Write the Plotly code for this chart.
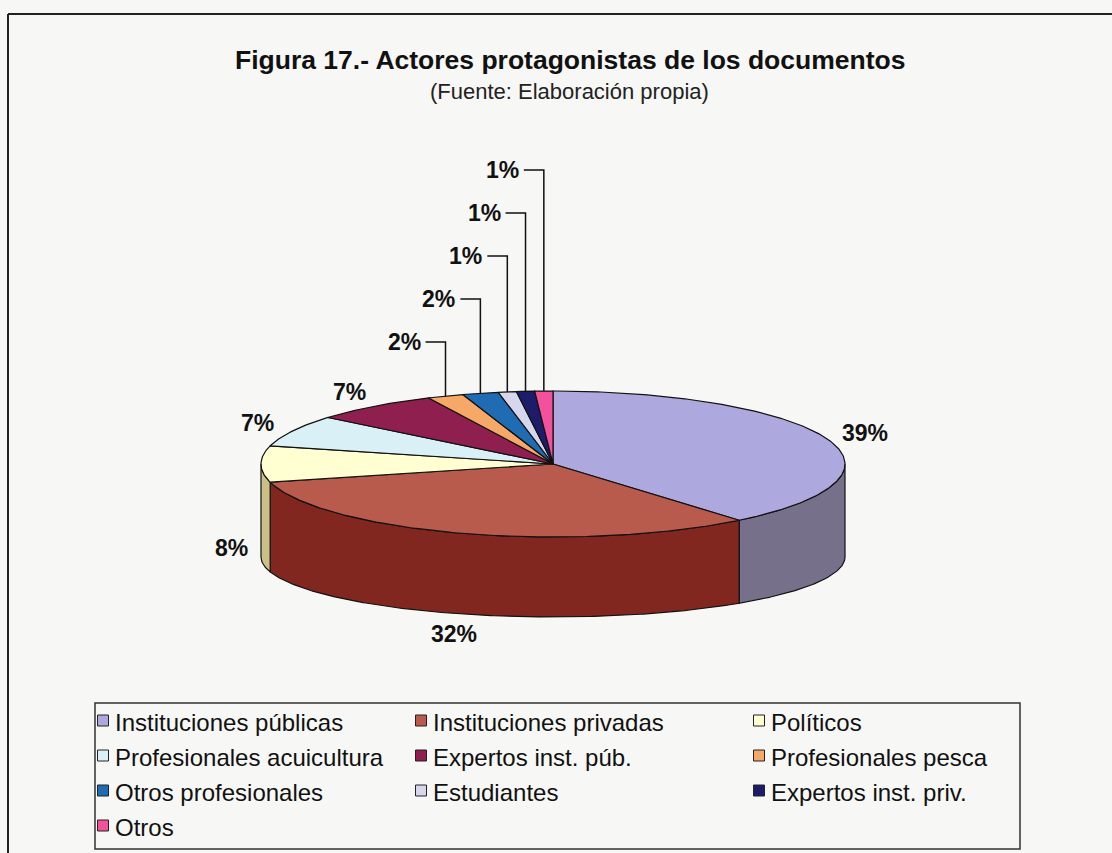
import numpy as np
import plotly.graph_objects as go

# ---------------- data ----------------
categories = ["Instituciones públicas", "Instituciones privadas", "Políticos",
              "Profesionales acuicultura", "Expertos inst. púb.", "Profesionales pesca",
              "Otros profesionales", "Estudiantes", "Expertos inst. priv.", "Otros"]
values = [39, 32, 8, 7, 7, 2, 2, 1, 1, 1]
pct_labels = ["39%", "32%", "8%", "7%", "7%", "2%", "2%", "1%", "1%", "1%"]

title_text = "Figura 17.- Actores protagonistas de los documentos"
subtitle_text = "(Fuente: Elaboración propia)"

# ---------------- styles ----------------
top_colors = ["#ADA8DE", "#B85A4C", "#FFFFD2", "#D9F1F6", "#8E1F4E",
              "#F6A866", "#1F6CB5", "#D6D6EC", "#1C1C6A", "#F2519C"]
side_colors = ["#77708B", "#82271F", "#CBC188", "#A9C0C5", "#5E1233",
               "#B87A48", "#154C80", "#A3A3B8", "#12124A", "#B03A70"]
FONT = "Liberation Sans, Arial, sans-serif"
BG = "#F7F7F5"

W, H = 1112, 853
cx, cy = 553, 464
rx, ry = 292, 73
depth = 93
ry_bottom = 60

total = float(sum(values))
cum = np.cumsum([0] + values) / total
start_deg = 90 - 360 * cum[:-1]
end_deg = 90 - 360 * cum[1:]

fig = go.Figure()


def arc(a_deg, b_deg, ellipse="top"):
    n = max(3, int(abs(a_deg - b_deg) * 1.5))
    t = np.radians(np.linspace(a_deg, b_deg, n))
    if ellipse == "top":
        return cx + rx * np.cos(t), cy - ry * np.sin(t)
    return cx + rx * np.cos(t), cy + depth - ry_bottom * np.sin(t)


# side walls (front half only)
for i in range(len(values)):
    a, b = start_deg[i], end_deg[i]
    lo, hi = max(b, -180.0), min(a, 0.0)
    if hi - lo <= 0:
        continue
    xt, yt = arc(hi, lo, "top")
    xb, yb = arc(lo, hi, "bottom")
    xs = np.concatenate([xt, xb, xt[:1]])
    ys = np.concatenate([yt, yb, yt[:1]])
    fig.add_trace(go.Scatter(x=xs, y=ys, mode="lines", fill="toself",
                             fillcolor=side_colors[i],
                             line=dict(color="#111111", width=1.2),
                             hoverinfo="skip", showlegend=False))

# top faces
for i in range(len(values)):
    xa, ya = arc(start_deg[i], end_deg[i], "top")
    xs = np.concatenate([[cx], xa, [cx]])
    ys = np.concatenate([[cy], ya, [cy]])
    fig.add_trace(go.Scatter(x=xs, y=ys, mode="lines", fill="toself",
                             fillcolor=top_colors[i],
                             line=dict(color="#111111", width=1.2),
                             name=categories[i], text=pct_labels[i],
                             hoverinfo="name+text", showlegend=False))

# percentage labels
annotations = []
j = 0
for i in range(len(values)):
    mid = np.radians((start_deg[i] + end_deg[i]) / 2)
    if values[i] > 2:
        front = np.sin(mid) <= 0.05
        kx = 1.1 if front else 1.135
        lx = cx + rx * kx * np.cos(mid)
        ly = cy - ry * 1.25 * np.sin(mid) + (0.9 * depth if front else 0)
        annotations.append(dict(x=lx, y=ly, xref="x", yref="y", text="<b>%s</b>" % pct_labels[i],
                                showarrow=False, font=dict(family=FONT, size=23, color="#111111"),
                                xanchor="center", yanchor="middle"))
    else:
        xm = cx + rx * np.cos(mid)
        ym = cy - ry * np.sin(mid)
        yl = cy - ry - 49 - 43 * j
        fig.add_trace(go.Scatter(x=[xm, xm, xm - 20], y=[ym, yl, yl], mode="lines",
                                 line=dict(color="#111111", width=1.5),
                                 hoverinfo="skip", showlegend=False))
        annotations.append(dict(x=xm - 23, y=yl, xref="x", yref="y", text="<b>%s</b>" % pct_labels[i],
                                showarrow=False, font=dict(family=FONT, size=23, color="#111111"),
                                xanchor="right", yanchor="middle"))
        j += 1

# title
annotations.append(dict(x=570, y=60, xref="x", yref="y", text="<b>%s</b>" % title_text,
                        showarrow=False, font=dict(family=FONT, size=26.5, color="#111111"),
                        xanchor="center", yanchor="middle"))
annotations.append(dict(x=569, y=91, xref="x", yref="y", text=subtitle_text,
                        showarrow=False, font=dict(family=FONT, size=22, color="#222222"),
                        xanchor="center", yanchor="middle"))

# legend (manual, 3 columns)
shapes = []
col_sq = [103, 421, 759]
row_y = [722, 757, 792, 827]
for i, name in enumerate(categories):
    r, c = divmod(i, 3)
    sx, sy = col_sq[c], row_y[r]
    shapes.append(dict(type="rect", xref="x", yref="y", x0=sx - 5.5, x1=sx + 5.5, y0=sy - 7, y1=sy + 4,
                       fillcolor=top_colors[i], line=dict(color="#222222", width=1)))
    annotations.append(dict(x=sx + 10, y=sy, xref="x", yref="y", text=name, showarrow=False,
                            font=dict(family=FONT, size=24, color="#111111"),
                            xanchor="left", yanchor="middle"))

# legend box and outer frame
shapes.append(dict(type="rect", xref="x", yref="y", x0=95, x1=1020, y0=703, y1=849,
                   line=dict(color="#333333", width=1.5), fillcolor="rgba(0,0,0,0)"))
shapes.append(dict(type="line", xref="x", yref="y", x0=8, x1=1112, y0=14, y1=14,
                   line=dict(color="#222222", width=2)))
shapes.append(dict(type="line", xref="x", yref="y", x0=8, x1=8, y0=14, y1=853,
                   line=dict(color="#222222", width=2)))

fig.update_layout(
    width=W, height=H,
    margin=dict(l=0, r=0, t=0, b=0),
    paper_bgcolor=BG, plot_bgcolor=BG,
    xaxis=dict(range=[0, W], visible=False, fixedrange=True),
    yaxis=dict(range=[H, 0], visible=False, fixedrange=True),
    annotations=annotations,
    shapes=shapes,
    showlegend=False,
)

fig.write_html("out.html", config={"displayModeBar": False},
               post_script="document.body.style.margin='0';document.body.style.overflow='hidden';")
